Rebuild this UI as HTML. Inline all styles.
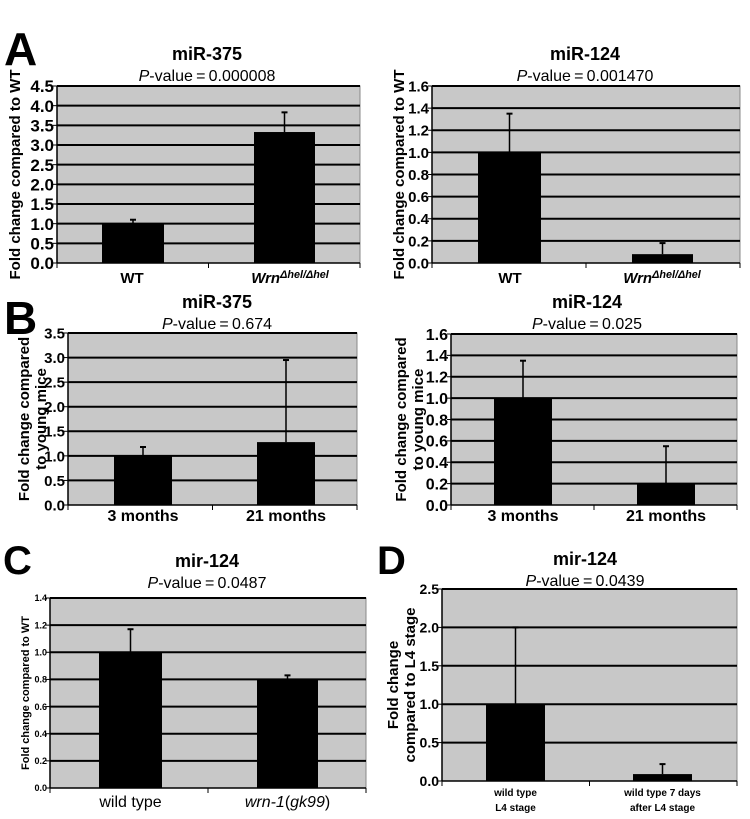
<!DOCTYPE html>
<html><head><meta charset="utf-8"><style>
html,body{margin:0;padding:0;background:#fff;}
svg{display:block;font-family:"Liberation Sans",Arial,sans-serif;}
</style></head><body>
<svg id="fig" width="750" height="819" viewBox="0 0 750 819" xmlns="http://www.w3.org/2000/svg">
<text x="4" y="65" font-size="46" font-weight="bold">A</text>
<text x="4" y="334" font-size="46" font-weight="bold">B</text>
<text x="3" y="574" font-size="40" font-weight="bold">C</text>
<text x="377" y="574" font-size="40" font-weight="bold">D</text>
</svg>
<script>
// Panel A-left data
const aLeftCats = ["WT", "Wrn"];
const aLeftVals = [1.0, 3.33];
const aLeftErr = [1.1, 3.83];
const aLeftTicks = ["0.0","0.5","1.0","1.5","2.0","2.5","3.0","3.5","4.0","4.5"];
// Panel A-right data
const aRightCats = ["WT", "Wrn"];
const aRightVals = [1.0, 0.08];
const aRightErr = [1.35, 0.18];
const aRightTicks = ["0.0","0.2","0.4","0.6","0.8","1.0","1.2","1.4","1.6"];
// Panel B-left data
const bLeftCats = ["3 months", "21 months"];
const bLeftVals = [1.0, 1.28];
const bLeftErr = [1.18, 2.95];
const bLeftTicks = ["0.0","0.5","1.0","1.5","2.0","2.5","3.0","3.5"];
// Panel B-right data
const bRightCats = ["3 months", "21 months"];
const bRightVals = [1.0, 0.2];
const bRightErr = [1.35, 0.55];
const bRightTicks = ["0.0","0.2","0.4","0.6","0.8","1.0","1.2","1.4","1.6"];
// Panel C data
const cCats = ["wild type", "wrn-1(gk99)"];
const cVals = [1.0, 0.8];
const cErr = [1.17, 0.83];
const cTicks = ["0.0","0.2","0.4","0.6","0.8","1.0","1.2","1.4"];
// Panel D data
const dCats = ["wild type|L4 stage", "wild type 7 days|after L4 stage"];
const dVals = [1.0, 0.09];
const dErr = [2.0, 0.22];
const dTicks = ["0.0","0.5","1.0","1.5","2.0","2.5"];

const NS = "http://www.w3.org/2000/svg";
const svg = document.getElementById("fig");
function mk(tag, attrs, parent) {
  const e = document.createElementNS(NS, tag);
  for (const k in attrs) e.setAttribute(k, attrs[k]);
  (parent || svg).appendChild(e);
  return e;
}

function panel(p) {
  const g = mk("g", {});
  
  
  const tmax = parseFloat(p.ticks[p.ticks.length - 1]);
  const y = v => p.y0 - (v / tmax) * (p.y0 - p.y1);
  const bg = mk("rect", {x: p.x0, y: p.y1, width: p.x1 - p.x0, height: p.y0 - p.y1, fill: "#c8c8c8", stroke: "#888", "stroke-width": 1}, g);
  
  
  p.ticks.forEach(t => {
    const v = parseFloat(t);
    const yy = y(v);
    if (v > 0) {
      const gl = mk("line", {x1: p.x0, x2: p.x1, y1: yy, y2: yy, stroke: "#000", "stroke-width": 2}, g);
      
      
    }
    mk("line", {x1: p.x0 - 4, x2: p.x0, y1: yy, y2: yy, stroke: "#000", "stroke-width": 1}, g);
    const tl = mk("text", {x: p.x0 - 3, y: yy + p.tf * 0.36, "font-size": p.tf, "font-weight": "bold", "text-anchor": "end"}, g);
    tl.textContent = t;
    
    
  });
  mk("line", {x1: p.x0, x2: p.x0, y1: p.y1, y2: p.y0, stroke: "#000", "stroke-width": 1.5}, g);
  mk("line", {x1: p.x0, x2: p.x1, y1: p.y0, y2: p.y0, stroke: "#000", "stroke-width": 1.5}, g);
  const mid = (p.x0 + p.x1) / 2;
  [p.x0, mid, p.x1].forEach(xx => mk("line", {x1: xx, x2: xx, y1: p.y0, y2: p.y0 + 5, stroke: "#000", "stroke-width": 1}, g));
  p.vals.forEach((v, i) => {
    const bx = p.bars[i];
    const r = mk("rect", {x: bx[0], y: y(v), width: bx[1] - bx[0], height: p.y0 - y(v), fill: "#000"}, g);
    
    
    const cx = (bx[0] + bx[1]) / 2;
    const e = mk("line", {x1: cx, x2: cx, y1: y(v), y2: y(p.err[i]), stroke: "#000", "stroke-width": 1.5}, g);
    
    
    mk("line", {x1: cx - 3, x2: cx + 3, y1: y(p.err[i]), y2: y(p.err[i]), stroke: "#000", "stroke-width": 2}, g);
    const cat = p.cats[i];
    const lx = p.labelX ? p.labelX[i] : cx;
    const lab = mk("text", {x: lx, y: p.labelY, "font-size": p.lf, "font-weight": p.lw || "bold", "text-anchor": "middle"}, g);
    
    
    if (cat === "Wrn") {
      lab.setAttribute("font-style", "italic");
      lab.innerHTML = 'Wrn<tspan font-size="' + (p.lf * 0.72) + '" dy="-5">\u0394hel/\u0394hel</tspan>';
    } else if (cat.indexOf("wrn-1") === 0) {
      lab.innerHTML = '<tspan font-style="italic">wrn-1</tspan>(<tspan font-style="italic">gk99</tspan>)';
    } else if (cat.indexOf("|") > 0) {
      const parts = cat.split("|");
      lab.innerHTML = '<tspan x="' + lx + '">' + parts[0] + '</tspan><tspan x="' + lx + '" dy="15">' + parts[1] + '</tspan>';
    } else {
      lab.textContent = cat;
    }
  });
  const tt = mk("text", {x: p.tx, y: p.ty, "font-size": 18, "font-weight": "bold", "text-anchor": "middle"}, g);
  tt.textContent = p.title;
  
  
  const pv = mk("text", {x: p.tx, y: p.ty + 21, "font-size": 16, "text-anchor": "middle"}, g);
  pv.innerHTML = '<tspan font-style="italic">P</tspan>-value\u2009=\u20090' + p.pval.slice(1);
  
  
  const yt = mk("text", {transform: "translate(" + p.ytx + "," + ((p.y0 + p.y1) / 2) + ") rotate(-90)", "font-size": p.ytf, "font-weight": "bold", "text-anchor": "middle"}, g);
  
  
  if (p.ytitle.length === 1) yt.textContent = p.ytitle[0];
  else yt.innerHTML = '<tspan x="0" dy="0">' + p.ytitle[0] + '</tspan><tspan x="0" dy="' + (p.ytf + 2) + '">' + p.ytitle[1] + '</tspan>';
}

panel({name:"chart-a-mir375", x0:57, x1:360, y0:263, y1:86, ticks:aLeftTicks, vals:aLeftVals, err:aLeftErr, cats:aLeftCats,
  bars:[[102,164],[254,315]], labelX:[132,290], labelY:283, tf:17, lf:15, title:"miR-375", pval:"0.000008", tx:207, ty:60,
  ytitle:["Fold change compared to WT"], ytx:20, ytf:15});
panel({name:"chart-a-mir124", x0:432, x1:740, y0:263, y1:86, ticks:aRightTicks, vals:aRightVals, err:aRightErr, cats:aRightCats,
  bars:[[478,541],[632,693]], labelX:[510,662], labelY:283, tf:15, lf:15, title:"miR-124", pval:"0.001470", tx:585, ty:60,
  ytitle:["Fold change compared to WT"], ytx:404, ytf:15});
panel({name:"chart-b-mir375", x0:68, x1:357, y0:505, y1:333, ticks:bLeftTicks, vals:bLeftVals, err:bLeftErr, cats:bLeftCats,
  bars:[[114,172],[257,315]], labelY:521, tf:15, lf:16, title:"miR-375", pval:"0.674", tx:217, ty:308,
  ytitle:["Fold change compared","to young mice"], ytx:29, ytf:15});
panel({name:"chart-b-mir124", x0:451, x1:737, y0:505, y1:334, ticks:bRightTicks, vals:bRightVals, err:bRightErr, cats:bRightCats,
  bars:[[494,552],[637,695]], labelY:521, tf:16, lf:16, title:"miR-124", pval:"0.025", tx:587, ty:308,
  ytitle:["Fold change compared","to young mice"], ytx:406, ytf:15});
panel({name:"chart-c-mir124", x0:50, x1:366, y0:788, y1:598, ticks:cTicks, vals:cVals, err:cErr, cats:cCats,
  bars:[[99,162],[257,318]], labelY:807, tf:9, lf:16, lw:"normal", title:"mir-124", pval:"0.0487", tx:207, ty:567,
  ytitle:["Fold change compared to WT"], ytx:29, ytf:11});
panel({name:"chart-d-mir124", x0:442, x1:737, y0:781, y1:589, ticks:dTicks, vals:dVals, err:dErr, cats:dCats,
  bars:[[486,545],[633,692]], labelY:796, tf:14, lf:10, title:"mir-124", pval:"0.0439", tx:585, ty:565,
  ytitle:["Fold change","compared to L4 stage"], ytx:398, ytf:15});
</script>
</body></html>
